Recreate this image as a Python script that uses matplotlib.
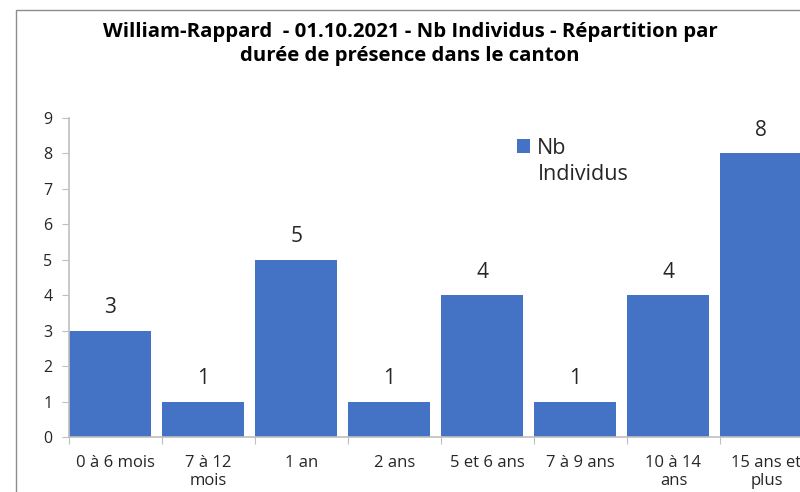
import matplotlib
matplotlib.use("Agg")
import matplotlib.pyplot as plt
from matplotlib.patches import Rectangle

plt.rcParams['font.family'] = ['Open Sans', 'DejaVu Sans']

# data
categories = ["0 à 6 mois", "7 à 12\nmois", "1 an", "2 ans", "5 et 6 ans",
              "7 à 9 ans", "10 à 14\nans", "15 ans et\nplus"]
nb_individus = [3, 1, 5, 1, 4, 1, 4, 8]
series_name = "Nb"
title = ("William-Rappard  - 01.10.2021 - Nb Individus - Répartition par\n"
         "durée de présence dans le canton")

bar_color = "#4472C4"
axis_color = "#BFBFBF"
text_color = "#262626"

fig = plt.figure(figsize=(8, 4.92), dpi=100)
# axes runs past the right edge on purpose (last bar is cut in the reference)
ax = fig.add_axes([69 / 800, 55 / 492, 837 / 800, 319 / 492])

x = range(len(categories))
bars = ax.bar(x, nb_individus, width=0.885, align="edge", color=bar_color,
              label=series_name)
ax.bar_label(bars, padding=9, fontsize=15, color=text_color)

ax.set_xlim(0, 9)
ax.set_ylim(0, 9)
ax.set_yticks(range(0, 10))
ax.set_xticks(range(0, 10), minor=False)
ax.set_xticklabels([])
ax.set_xticks([i + 0.5 for i in x], minor=True)
ax.set_xticklabels(categories, minor=True, fontsize=12, color=text_color,
                   linespacing=1.17)
ax.tick_params(axis="x", which="minor", length=0, pad=13)
ax.tick_params(axis="x", which="major", length=5, color=axis_color)
ax.tick_params(axis="y", length=5, color=axis_color, labelsize=11.5,
               labelcolor=text_color, pad=7)

for side in ("top", "right"):
    ax.spines[side].set_visible(False)
for side in ("left", "bottom"):
    ax.spines[side].set_color(axis_color)
    ax.spines[side].set_linewidth(1.2)

leg = ax.legend(loc="center left", bbox_to_anchor=(517 / 800, 1 - 148 / 492),
                bbox_transform=fig.transFigure, frameon=False, borderpad=0,
                borderaxespad=0, fontsize=15.5, handlelength=0.62,
                handleheight=0.6, handletextpad=0.3, labelcolor=text_color)
fig.text(538 / 800, 1 - 174 / 492, "Individus", fontsize=15.5,
         color=text_color, va="center", ha="left")

fig.text(410 / 800, 1 - 44 / 492, title, ha="center", va="center",
         fontsize=14.7, fontweight="bold", color="black", linespacing=1.33)

# chart frame
fig.patches.append(Rectangle((16 / 800, -0.1), 1.0, 1 - 10 / 492 + 0.1,
                             transform=fig.transFigure, fill=False,
                             edgecolor="#8C8C8C", linewidth=1))

fig.savefig("out.png", dpi=100)
